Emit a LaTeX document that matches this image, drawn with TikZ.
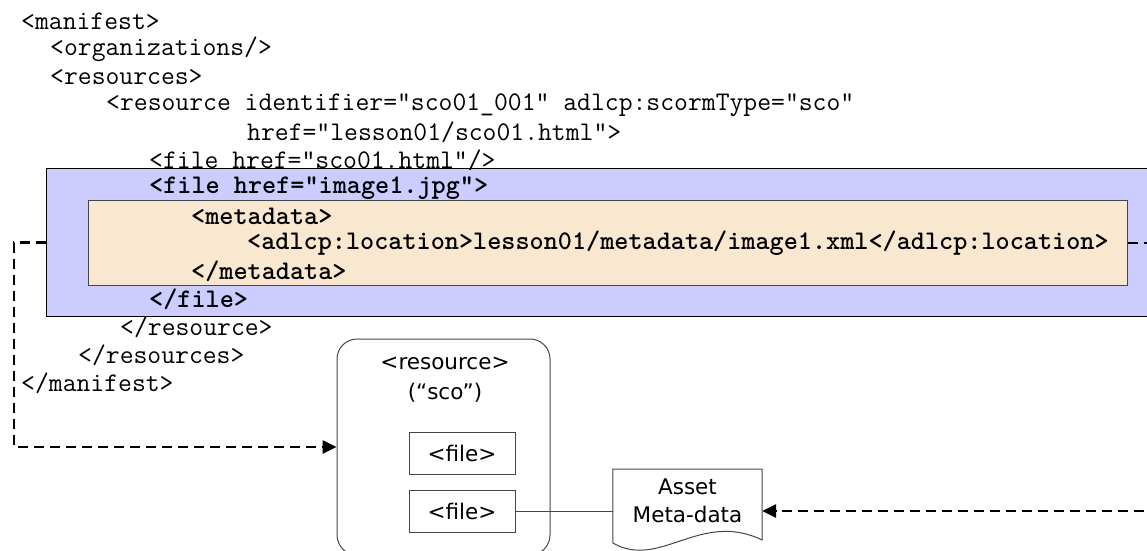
\documentclass[tikz,border=0pt]{standalone}
\usepackage{fontspec}
\newfontfamily\boxfont{DejaVu Sans}
\usetikzlibrary{arrows.meta,positioning}
\definecolor{fileblue}{RGB}{204,204,255}
\definecolor{metatan}{RGB}{249,231,207}
\definecolor{boxgray}{RGB}{70,70,70}
\tikzset{
  xmlline/.style={anchor=west, inner sep=0pt, font=\fontsize{26.9}{28}\selectfont\ttfamily},
  xmlbold/.style={anchor=west, inner sep=0pt, font=\fontsize{26.9}{28}\selectfont\ttfamily\bfseries},
  boxtext/.style={inner sep=0pt, font=\fontsize{21.5}{28}\selectfont\boxfont},
  filebox/.style={boxtext, draw=boxgray, line width=1pt, minimum width=106pt, minimum height=42pt},
  dashline/.style={line width=2.6pt, dash pattern=on 10pt off 6pt},
  arrowtip/.style={-{Triangle[length=14pt,width=13pt]}}
}
\begin{document}
\begin{tikzpicture}[x=1pt,y=-1pt]
    \useasboundingbox (0,0) rectangle (1147,550);
    \clip (0,0) rectangle (1147,550);

    %Bokser
        \node[draw=black, fill=fileblue, line width=1pt, anchor=north west, minimum width=1140pt, minimum height=148pt, inner sep=0pt] (fileblk) at (46,168) {};
        \node[draw=boxgray, fill=metatan, line width=1pt, anchor=north west, minimum width=1039pt, minimum height=85pt, inner sep=0pt] (metablk) at (88,200) {};

    %XML
        \node[xmlline] (l1) at (21,21) {<manifest>};
        \node[xmlline] (l2) at (50,49) {<organizations/>};
        \node[xmlline] (l3) at (50,77) {<resources>};
        \node[xmlline] (l4) at (106,105) {<resource identifier="sco01\_001" adlcp:scormType="sco"};
        \node[xmlline] (l5) at (247,132) {href="lesson01/sco01.html">};
        \node[xmlline] (l6) at (149,160) {<file href="sco01.html"/>};
        \node[xmlbold] (l7) at (149,188) {<file href="image1.jpg">};
        \node[xmlbold] (l8) at (191,216) {<metadata>};
        \node[xmlbold] (l9) at (247,243) {<adlcp:location>lesson01/metadata/image1.xml</adlcp:location>};
        \node[xmlbold] (l10) at (191,271) {</metadata>};
        \node[xmlbold] (l11) at (149,299) {</file>};
        \node[xmlline] (l12) at (120,327) {</resource>};
        \node[xmlline] (l13) at (78,355) {</resources>};
        \node[xmlline] (l14) at (21,383) {</manifest>};

    %Ressurs
        \node[draw=boxgray, line width=1pt, rounded corners=20pt, minimum width=213pt, minimum height=216pt, inner sep=0pt] (res) at (443.5,447) {};
        \node[boxtext] (reslbl) at (445,363) {<resource>};
        \node[boxtext] (restype) at (445,393) {(“sco”)};
        \node[filebox] (file1) at (462,453) {<file>};
        \node[filebox] (file2) at (462,511) {<file>};

    %Metadata
        \node[boxtext, align=center, minimum width=149pt, minimum height=74pt] (asset) at (687.5,501) {Asset\\Meta-data};
        \draw[boxgray, line width=1pt] (asset.west |- 0,543) -- (asset.west |- 0,469) -- (asset.east |- 0,469) -- (asset.east |- 0,540) .. controls (700,510) and (660,570) .. (asset.west |- 0,543);

    %Piler
        \coordinate (lout) at (14,447);
        \coordinate (rout) at (1170,511);
        \draw[boxgray, line width=1pt] (file2.east) -- (file2.east -| asset.west);
        \draw[dashline, arrowtip] (fileblk.west) -- (fileblk.west -| lout) -- (lout) -- (res.west);
        \draw[dashline, arrowtip] (metablk.east) -- (metablk.east -| rout) -- (rout) -- (rout -| asset.east);
\end{tikzpicture}
\end{document}
